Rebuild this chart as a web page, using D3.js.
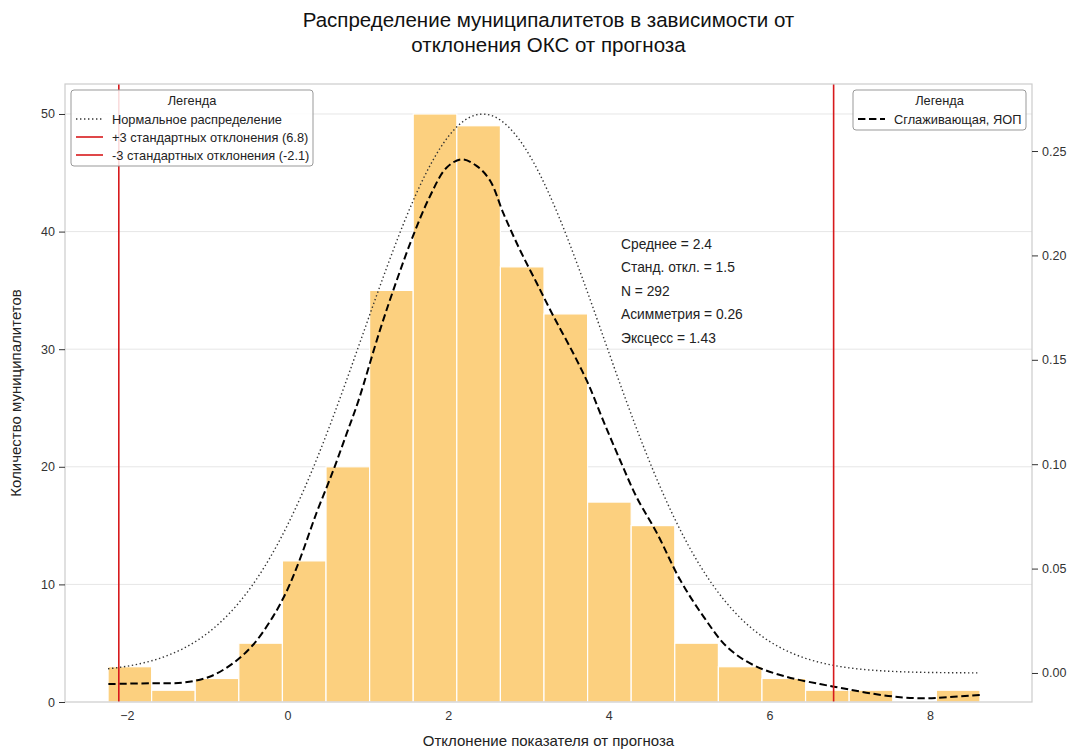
<!DOCTYPE html>
<html>
<head>
<meta charset="utf-8">
<script src="https://cdn.jsdelivr.net/npm/d3@7"></script>
<style>
  body { margin: 0; background: #fff; }
  svg { font-family: "Liberation Sans", Arial, sans-serif; }
</style>
</head>
<body>
<svg id="chart" width="1072" height="751"></svg>
<script>
// Histogram: counts per bin, equal-width bins starting at binStart
const binCounts = [3, 1, 2, 5, 12, 20, 35, 50, 49, 37, 33, 17, 15, 5, 3, 2, 1, 1, 0, 1];
const binStart = -2.234;
const binWidth = 0.5428;

// Summary statistics
const meanVal = 2.43;
const sdVal = 1.49;
const nObs = 292;
const skewVal = 0.26;
const kurtVal = 1.43;

// ±3 sigma reference lines
const sigmaLabels = ["+3 стандартных отклонения (6.8)", "-3 стандартных отклонения (-2.1)"];
const sigmaValues = [6.8, -2.1];

// Smoothing curve (density units, right axis)
const smoothX = [-2.23, -1.71, -1.30, -0.97, -0.68, -0.43, -0.18, 0.0, 0.15, 0.36, 0.57, 0.74, 0.88,
                 1.15, 1.36, 1.56, 1.77, 1.98, 2.17, 2.35, 2.52, 2.69, 2.89, 3.10, 3.31, 3.56, 3.75,
                 3.93, 4.14, 4.35, 4.60, 4.89, 5.18, 5.47, 5.80, 6.21, 6.63, 6.91, 7.25, 7.63, 7.96, 8.21, 8.62];
const smoothY = [-0.0053, -0.0049, -0.0046, -0.0018, 0.0046, 0.0134, 0.027, 0.040, 0.054, 0.0765, 0.097, 0.115, 0.130,
                 0.164, 0.188, 0.209, 0.228, 0.242, 0.246, 0.243, 0.236, 0.220, 0.203, 0.187, 0.171, 0.153, 0.138,
                 0.121, 0.102, 0.084, 0.067, 0.0445, 0.027, 0.0126, 0.0038, -0.0018, -0.0053, -0.0073, -0.0097, -0.0116, -0.0121, -0.0116, -0.0105];

// Axis ticks
const xTicks = [-2, 0, 2, 4, 6, 8];
const countTicks = [0, 10, 20, 30, 40, 50];
const densityTicks = [0, 0.05, 0.10, 0.15, 0.20, 0.25];

const titleLines = ["Распределение муниципалитетов в зависимости от", "отклонения ОКС от прогноза"];
const xLabel = "Отклонение показателя от прогноза";
const yLabel = "Количество муниципалитетов";
const legendTitle = "Легенда";
const normalLabel = "Нормальное распределение";
const smoothLabel = "Сглаживающая, ЯОП";

// ---- layout ----
const plot = { left: 65, right: 1032, top: 84, bottom: 702 };
const svg = d3.select("#chart");

const x = d3.scaleLinear().domain([-2.77, 9.27]).range([plot.left, plot.right]);
const yCount = d3.scaleLinear().domain([0, 52.55]).range([plot.bottom, plot.top]);
const yDens = d3.scaleLinear().domain([-0.0139, 0.2821]).range([plot.bottom, plot.top]);

// grid lines (count axis)
svg.append("g")
  .selectAll("line")
  .data(countTicks.filter(d => d > 0))
  .join("line")
  .attr("x1", plot.left).attr("x2", plot.right)
  .attr("y1", d => yCount(d)).attr("y2", d => yCount(d))
  .attr("stroke", "#e6e6e6").attr("stroke-width", 1);

// histogram bars
const bins = binCounts.map((c, i) => ({ x0: binStart + i * binWidth, x1: binStart + (i + 1) * binWidth, count: c }));
svg.append("g")
  .selectAll("rect")
  .data(bins.filter(b => b.count > 0))
  .join("rect")
  .attr("x", d => x(d.x0))
  .attr("width", d => x(d.x1) - x(d.x0))
  .attr("y", d => yCount(d.count))
  .attr("height", d => yCount(0) - yCount(d.count))
  .attr("fill", "#fcd07f")
  .attr("stroke", "#fff")
  .attr("stroke-width", 1.2);

// normal density curve from mean and sd over the data range
const lo = binStart, hi = binStart + binCounts.length * binWidth;
const normPts = d3.range(0, 201).map(i => {
  const xv = lo + (hi - lo) * i / 200;
  const z = (xv - meanVal) / sdVal;
  return [xv, Math.exp(-0.5 * z * z) / (sdVal * Math.sqrt(2 * Math.PI))];
});
svg.append("path")
  .datum(normPts)
  .attr("d", d3.line().x(d => x(d[0])).y(d => yDens(d[1])))
  .attr("fill", "none")
  .attr("stroke", "#333")
  .attr("stroke-width", 1.4)
  .attr("stroke-dasharray", "1.4 2.6");

// smoothing curve
svg.append("path")
  .datum(smoothX.map((v, i) => [v, smoothY[i]]))
  .attr("d", d3.line().curve(d3.curveCatmullRom.alpha(0.5)).x(d => x(d[0])).y(d => yDens(d[1])))
  .attr("fill", "none")
  .attr("stroke", "#000")
  .attr("stroke-width", 2)
  .attr("stroke-dasharray", "7.4 3.6");

// sigma lines
svg.append("g")
  .selectAll("line")
  .data(sigmaValues)
  .join("line")
  .attr("x1", d => x(d)).attr("x2", d => x(d))
  .attr("y1", plot.top).attr("y2", plot.bottom)
  .attr("stroke", "#d7191c").attr("stroke-width", 1.6);

// frame
svg.append("rect")
  .attr("x", plot.left).attr("y", plot.top)
  .attr("width", plot.right - plot.left).attr("height", plot.bottom - plot.top)
  .attr("fill", "none").attr("stroke", "#cccccc").attr("stroke-width", 1.2);

// axes
const tickColor = "#333";
const xAxis = svg.append("g")
  .attr("transform", `translate(0,${plot.bottom})`)
  .call(d3.axisBottom(x).tickValues(xTicks).tickSize(0).tickPadding(9).tickFormat(d3.format("d")));
const yAxisL = svg.append("g")
  .attr("transform", `translate(${plot.left},0)`)
  .call(d3.axisLeft(yCount).tickValues(countTicks).tickSize(6).tickPadding(4));
const yAxisR = svg.append("g")
  .attr("transform", `translate(${plot.right},0)`)
  .call(d3.axisRight(yDens).tickValues(densityTicks).tickSize(6).tickPadding(4).tickFormat(d3.format(".2f")));
[xAxis, yAxisL, yAxisR].forEach(g => {
  g.select(".domain").remove();
  g.selectAll(".tick line").attr("stroke", tickColor).attr("stroke-width", 1);
  g.selectAll(".tick text").attr("fill", "#333").attr("font-size", 12.5)
    .attr("font-family", "'Liberation Sans', Arial, sans-serif");
});
// minus sign for negative tick
xAxis.selectAll(".tick text").text(d => d < 0 ? "\u2212" + Math.abs(d) : d);

// axis labels
svg.append("text")
  .attr("x", (plot.left + plot.right) / 2).attr("y", 746)
  .attr("text-anchor", "middle").attr("font-size", 15).attr("fill", "#222")
  .text(xLabel);
svg.append("text")
  .attr("transform", `translate(21,${(plot.top + plot.bottom) / 2}) rotate(-90)`)
  .attr("text-anchor", "middle").attr("font-size", 15).attr("fill", "#222")
  .text(yLabel);

// title
svg.append("g").selectAll("text")
  .data(titleLines)
  .join("text")
  .attr("x", (plot.left + plot.right) / 2)
  .attr("y", (d, i) => 27 + i * 25)
  .attr("text-anchor", "middle").attr("font-size", 20.5).attr("fill", "#111")
  .text(d => d);

// statistics annotation
const statLines = [
  `Среднее = ${d3.format(".1f")(meanVal)}`,
  `Станд. откл. = ${d3.format(".1f")(sdVal)}`,
  `N = ${nObs}`,
  `Асимметрия = ${d3.format(".2f")(skewVal)}`,
  `Эксцесс = ${d3.format(".2f")(kurtVal)}`
];
svg.append("g").selectAll("text")
  .data(statLines)
  .join("text")
  .attr("x", 621)
  .attr("y", (d, i) => 248.5 + i * 23.5)
  .attr("font-size", 13.8).attr("fill", "#222")
  .text(d => d);

// legends
function drawLegend(box, entries) {
  const g = svg.append("g");
  g.append("rect")
    .attr("x", box.x).attr("y", box.y).attr("width", box.w).attr("height", box.h)
    .attr("rx", 3).attr("fill", "rgba(255,255,255,0.85)").attr("stroke", "#999").attr("stroke-width", 1);
  g.append("text")
    .attr("x", box.x + box.w / 2).attr("y", box.y + 15)
    .attr("text-anchor", "middle").attr("font-size", 12.8).attr("fill", "#222")
    .text(legendTitle);
  entries.forEach((e, i) => {
    const cy = box.y + 29 + i * 18;
    g.append("line")
      .attr("x1", box.x + 5).attr("x2", box.x + 32)
      .attr("y1", cy).attr("y2", cy)
      .attr("stroke", e.color).attr("stroke-width", e.width)
      .attr("stroke-dasharray", e.dash || null);
    g.append("text")
      .attr("x", box.x + 41).attr("y", cy + 4.5)
      .attr("font-size", 12.8).attr("fill", "#222")
      .text(e.label);
  });
}
drawLegend({ x: 71, y: 90, w: 242, h: 76 }, [
  { label: normalLabel, color: "#333", width: 1.4, dash: "1.4 2.6" },
  { label: sigmaLabels[0], color: "#d7191c", width: 1.6 },
  { label: sigmaLabels[1], color: "#d7191c", width: 1.6 }
]);
drawLegend({ x: 853, y: 90, w: 173, h: 40 }, [
  { label: smoothLabel, color: "#000", width: 2, dash: "7.4 3.6" }
]);
</script>
</body>
</html>
